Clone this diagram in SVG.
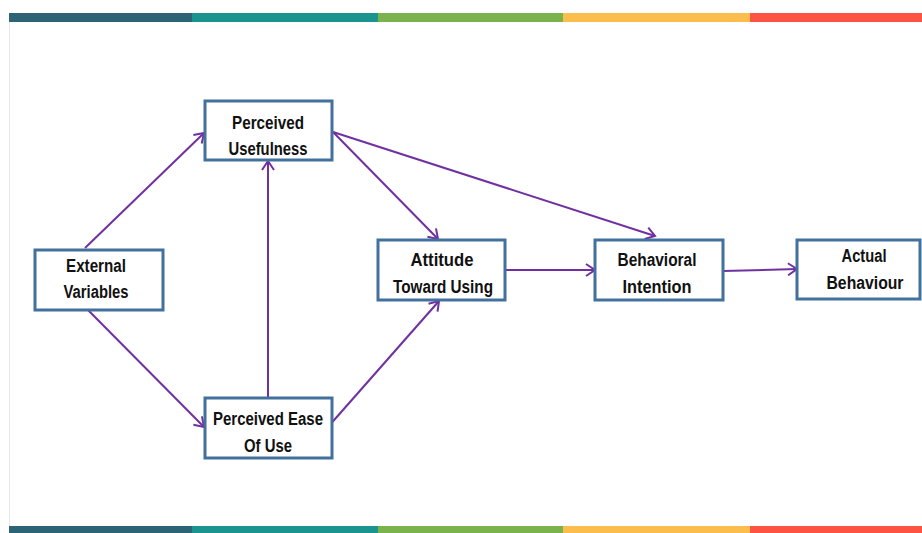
<svg xmlns="http://www.w3.org/2000/svg" width="922" height="533" viewBox="0 0 922 533">
<style>
.box{fill:#fff;stroke:#41719c;stroke-width:3}
.lbl{font-family:"Liberation Sans",Arial,sans-serif;font-weight:bold;font-size:18px;fill:#111;text-anchor:middle}
.edge{fill:none;stroke:#7030a0;stroke-width:2;marker-end:url(#ah)}
</style>
<defs>
<marker id="ah" markerUnits="userSpaceOnUse" markerWidth="14" markerHeight="14" viewBox="0 0 14 14" refX="12" refY="7" orient="auto">
<path d="M3,1 L12,7 L3,13" fill="none" stroke="#7030a0" stroke-width="2"/>
</marker>
</defs>
<rect width="922" height="533" fill="#fff"/>
<line x1="9.5" y1="13" x2="9.5" y2="533" stroke="#e4e8ec" stroke-width="1"/>
<g id="topbar">
<rect x="9" y="13" width="183" height="9" fill="#2c6476"/>
<rect x="192" y="13" width="186" height="9" fill="#1b948f"/>
<rect x="378" y="13" width="185" height="9" fill="#7ab34b"/>
<rect x="563" y="13" width="187" height="9" fill="#fbbd4b"/>
<rect x="750" y="13" width="172" height="9" fill="#fc5342"/>
</g>
<g id="bottombar">
<rect x="9" y="526" width="183" height="7" fill="#2c6476"/>
<rect x="192" y="526" width="186" height="7" fill="#1b948f"/>
<rect x="378" y="526" width="185" height="7" fill="#7ab34b"/>
<rect x="563" y="526" width="187" height="7" fill="#fbbd4b"/>
<rect x="750" y="526" width="172" height="7" fill="#fc5342"/>
</g>
<g id="connectors">
<line class="edge" x1="85" y1="248" x2="204" y2="133"/>
<line class="edge" x1="88" y1="310" x2="204" y2="427"/>
<line class="edge" x1="268" y1="397" x2="268" y2="161"/>
<line class="edge" x1="333" y1="132" x2="438" y2="239"/>
<line class="edge" x1="333" y1="132" x2="655" y2="236"/>
<line class="edge" x1="328" y1="427" x2="439" y2="301"/>
<line class="edge" x1="505" y1="270" x2="595" y2="270"/>
<line class="edge" x1="723" y1="271" x2="797" y2="269"/>
</g>
<g id="perceived-usefulness">
<rect class="box" x="205" y="101" width="127" height="59"/>
<text class="lbl" x="268" y="129" textLength="72" lengthAdjust="spacingAndGlyphs">Perceived</text>
<text class="lbl" x="268" y="155" textLength="79" lengthAdjust="spacingAndGlyphs">Usefulness</text>
</g>
<g id="external-variables">
<rect class="box" x="35" y="250" width="128" height="60"/>
<text class="lbl" x="96" y="272" textLength="60" lengthAdjust="spacingAndGlyphs">External</text>
<text class="lbl" x="96" y="298" textLength="65" lengthAdjust="spacingAndGlyphs">Variables</text>
</g>
<g id="perceived-ease">
<rect class="box" x="205" y="398" width="127" height="60"/>
<text class="lbl" x="268" y="425" textLength="110" lengthAdjust="spacingAndGlyphs">Perceived Ease</text>
<text class="lbl" x="268" y="452" textLength="48" lengthAdjust="spacingAndGlyphs">Of Use</text>
</g>
<g id="attitude">
<rect class="box" x="378" y="240" width="127" height="60"/>
<text class="lbl" x="442" y="266" textLength="63" lengthAdjust="spacingAndGlyphs">Attitude</text>
<text class="lbl" x="443" y="293" textLength="100" lengthAdjust="spacingAndGlyphs">Toward Using</text>
</g>
<g id="behavioral-intention">
<rect class="box" x="595" y="240" width="128" height="60"/>
<text class="lbl" x="657" y="266" textLength="79" lengthAdjust="spacingAndGlyphs">Behavioral</text>
<text class="lbl" x="657" y="293" textLength="69" lengthAdjust="spacingAndGlyphs">Intention</text>
</g>
<g id="actual-behaviour">
<rect class="box" x="797" y="240" width="123" height="59"/>
<text class="lbl" x="864" y="262" textLength="45" lengthAdjust="spacingAndGlyphs">Actual</text>
<text class="lbl" x="865" y="289" textLength="77" lengthAdjust="spacingAndGlyphs">Behaviour</text>
</g>
</svg>
